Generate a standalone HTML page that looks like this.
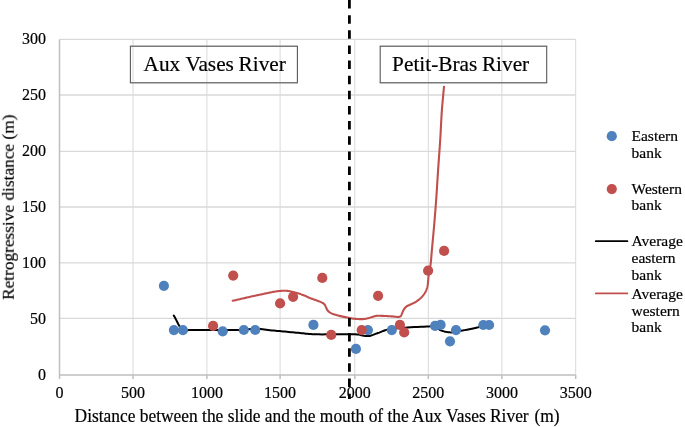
<!DOCTYPE html><html><head><meta charset="utf-8"><style>html,body{margin:0;padding:0;background:#fff;width:685px;height:427px;overflow:hidden}svg{display:block;will-change:transform}text{font-family:"Liberation Serif", serif;fill:#000;stroke:#000;stroke-width:0.2px}.t{opacity:0.999}</style></head><body>
<svg width="685" height="427" viewBox="0 0 685 427">
<defs><filter id="bl" x="0" y="0" width="100%" height="100%" filterUnits="userSpaceOnUse"><feGaussianBlur stdDeviation="0.2 0.4"/></filter></defs>
<g filter="url(#bl)">
<rect width="685" height="427" fill="#fff"/>
<path d="M59.50 39.40H575.70M59.50 95.00H575.70M59.50 151.30H575.70M59.50 207.00H575.70M59.50 262.90H575.70M59.50 318.40H575.70" stroke="#d9d9d9" stroke-width="1.3" fill="none"/>
<path d="M133.00 39.40V374.90M206.90 39.40V374.90M280.10 39.40V374.90M354.80 39.40V374.90M428.30 39.40V374.90M501.90 39.40V374.90M575.70 39.40V374.90" stroke="#d9d9d9" stroke-width="1.0" fill="none"/>
<path d="M59.50 374.90H575.70M59.50 39.40V378.90M133.00 374.90V378.90M206.90 374.90V378.90M280.10 374.90V378.90M354.80 374.90V378.90M428.30 374.90V378.90M501.90 374.90V378.90M575.70 374.90V378.90" stroke="#bfbfbf" stroke-width="1.5" fill="none"/>
<path d="M129.90 46.20H297.90M129.90 82.75H297.90" stroke="#7a7a7a" stroke-width="1.5" fill="none"/>
<path d="M130.40 46.20V82.75M297.40 46.20V82.75" stroke="#5a5a5a" stroke-width="1.1" fill="none"/>
<path d="M379.70 46.20H547.20M379.70 82.75H547.20" stroke="#7a7a7a" stroke-width="1.5" fill="none"/>
<path d="M380.20 46.20V82.75M546.70 46.20V82.75" stroke="#5a5a5a" stroke-width="1.1" fill="none"/>
<text class="t" transform="translate(143.60,71.40) scale(0.9682,1)" font-size="22.00">Aux</text>
<text class="t" transform="translate(185.40,71.40) scale(0.9682,1)" font-size="22.00">Vases</text>
<text class="t" transform="translate(238.60,71.40) scale(0.9682,1)" font-size="22.00">River</text>
<text class="t" transform="translate(392.10,71.40) scale(0.9682,1)" font-size="22.00">Petit-Bras</text>
<text class="t" transform="translate(481.90,71.40) scale(0.9682,1)" font-size="22.00">River</text>
<path d="M232.70 300.80 L234.11 300.47 L235.53 300.15 L236.94 299.82 L238.36 299.50 L239.77 299.17 L241.19 298.85 L242.59 298.52 L244.00 298.20 L245.40 297.88 L246.81 297.55 L248.23 297.23 L249.65 296.90 L251.04 296.58 L252.41 296.27 L253.73 295.98 L255.00 295.70 L255.98 295.49 L256.93 295.29 L257.85 295.11 L258.74 294.93 L259.63 294.75 L260.51 294.57 L261.40 294.39 L262.30 294.20 L263.21 294.00 L264.13 293.80 L265.04 293.59 L265.95 293.39 L266.86 293.18 L267.77 292.98 L268.69 292.79 L269.60 292.60 L270.52 292.42 L271.45 292.24 L272.39 292.06 L273.33 291.88 L274.25 291.72 L275.16 291.56 L276.05 291.42 L276.90 291.30 L277.59 291.21 L278.26 291.13 L278.92 291.06 L279.56 290.99 L280.20 290.93 L280.81 290.88 L281.41 290.84 L282.00 290.80 L282.47 290.77 L282.93 290.74 L283.37 290.72 L283.81 290.70 L284.24 290.69 L284.66 290.69 L285.08 290.69 L285.50 290.70 L285.89 290.72 L286.27 290.74 L286.64 290.77 L287.02 290.80 L287.39 290.84 L287.76 290.89 L288.13 290.94 L288.50 291.00 L288.87 291.07 L289.22 291.14 L289.57 291.22 L289.92 291.30 L290.28 291.39 L290.66 291.49 L291.06 291.59 L291.50 291.70 L292.27 291.89 L293.12 292.09 L294.03 292.32 L294.99 292.56 L295.97 292.81 L296.95 293.07 L297.90 293.33 L298.80 293.60 L299.61 293.85 L300.41 294.11 L301.20 294.38 L301.99 294.65 L302.76 294.93 L303.52 295.22 L304.27 295.51 L305.00 295.80 L305.65 296.08 L306.27 296.36 L306.87 296.65 L307.47 296.94 L308.07 297.23 L308.69 297.53 L309.33 297.82 L310.00 298.10 L310.87 298.43 L311.81 298.77 L312.78 299.10 L313.77 299.42 L314.76 299.75 L315.73 300.07 L316.65 300.39 L317.50 300.70 L318.13 300.94 L318.74 301.17 L319.34 301.40 L319.92 301.63 L320.47 301.86 L321.00 302.09 L321.51 302.34 L322.00 302.60 L322.38 302.82 L322.74 303.03 L323.09 303.24 L323.43 303.47 L323.75 303.70 L324.05 303.95 L324.33 304.21 L324.60 304.50 L324.84 304.82 L325.06 305.17 L325.25 305.55 L325.42 305.93 L325.59 306.33 L325.75 306.72 L325.92 307.12 L326.10 307.50 L326.28 307.88 L326.45 308.27 L326.62 308.66 L326.78 309.05 L326.96 309.43 L327.15 309.81 L327.36 310.16 L327.60 310.50 L327.86 310.82 L328.14 311.12 L328.43 311.40 L328.74 311.68 L329.07 311.94 L329.42 312.20 L329.80 312.45 L330.20 312.70 L330.81 313.03 L331.47 313.35 L332.19 313.65 L332.94 313.93 L333.73 314.21 L334.54 314.48 L335.37 314.74 L336.20 315.00 L337.21 315.30 L338.26 315.58 L339.35 315.86 L340.46 316.12 L341.59 316.38 L342.73 316.62 L343.87 316.86 L345.00 317.10 L346.17 317.35 L347.34 317.59 L348.53 317.84 L349.72 318.07 L350.91 318.29 L352.11 318.49 L353.31 318.66 L354.50 318.80 L355.70 318.91 L356.93 319.00 L358.17 319.07 L359.40 319.11 L360.62 319.13 L361.80 319.12 L362.93 319.08 L364.00 319.00 L364.78 318.91 L365.52 318.80 L366.23 318.66 L366.92 318.51 L367.60 318.34 L368.29 318.16 L368.98 317.98 L369.70 317.80 L370.50 317.58 L371.32 317.32 L372.14 317.05 L372.96 316.77 L373.79 316.50 L374.63 316.26 L375.46 316.05 L376.30 315.90 L377.12 315.81 L377.94 315.76 L378.75 315.75 L379.57 315.76 L380.40 315.79 L381.24 315.83 L382.11 315.87 L383.00 315.90 L384.11 315.94 L385.28 315.98 L386.48 316.04 L387.70 316.11 L388.92 316.18 L390.12 316.26 L391.29 316.33 L392.40 316.40 L393.32 316.48 L394.26 316.59 L395.20 316.71 L396.11 316.82 L396.97 316.92 L397.77 316.97 L398.49 316.97 L399.10 316.90 L399.38 316.83 L399.63 316.76 L399.86 316.67 L400.07 316.57 L400.27 316.45 L400.45 316.32 L400.63 316.17 L400.80 316.00 L400.99 315.77 L401.16 315.52 L401.31 315.23 L401.45 314.93 L401.58 314.61 L401.71 314.27 L401.85 313.94 L402.00 313.60 L402.20 313.16 L402.39 312.70 L402.58 312.22 L402.78 311.72 L402.99 311.22 L403.21 310.73 L403.44 310.25 L403.70 309.80 L403.97 309.36 L404.26 308.93 L404.55 308.51 L404.86 308.09 L405.19 307.69 L405.54 307.30 L405.91 306.94 L406.30 306.60 L406.75 306.27 L407.23 305.98 L407.75 305.72 L408.28 305.48 L408.82 305.24 L409.38 305.01 L409.94 304.76 L410.50 304.50 L411.13 304.20 L411.79 303.90 L412.46 303.60 L413.13 303.30 L413.81 302.98 L414.48 302.65 L415.15 302.29 L415.80 301.90 L416.49 301.45 L417.19 300.96 L417.89 300.44 L418.58 299.90 L419.26 299.35 L419.91 298.80 L420.52 298.24 L421.10 297.70 L421.55 297.25 L421.98 296.80 L422.39 296.35 L422.78 295.89 L423.16 295.43 L423.52 294.97 L423.86 294.49 L424.20 294.00 L424.52 293.50 L424.83 292.99 L425.13 292.47 L425.42 291.95 L425.68 291.42 L425.94 290.88 L426.18 290.34 L426.40 289.80 L426.60 289.29 L426.77 288.79 L426.93 288.29 L427.08 287.79 L427.22 287.27 L427.35 286.72 L427.47 286.13 L427.60 285.50 L427.78 284.41 L427.92 283.20 L428.05 281.89 L428.16 280.53 L428.27 279.12 L428.39 277.71 L428.53 276.33 L428.70 275.00 L428.89 273.75 L429.11 272.53 L429.35 271.32 L429.59 270.11 L429.84 268.89 L430.07 267.64 L430.30 266.35 L430.50 265.00 L430.71 263.31 L430.90 261.59 L431.07 259.83 L431.23 258.02 L431.38 256.14 L431.54 254.18 L431.71 252.14 L431.90 250.00 L432.20 246.72 L432.53 243.16 L432.88 239.38 L433.24 235.47 L433.60 231.50 L433.95 227.55 L434.29 223.69 L434.60 220.00 L434.87 216.77 L435.12 213.59 L435.37 210.46 L435.60 207.36 L435.83 204.28 L436.06 201.20 L436.28 198.11 L436.50 195.00 L436.71 191.89 L436.91 188.80 L437.11 185.73 L437.30 182.64 L437.49 179.54 L437.69 176.41 L437.89 173.23 L438.10 170.00 L438.35 166.38 L438.61 162.69 L438.88 158.95 L439.15 155.17 L439.43 151.37 L439.69 147.56 L439.95 143.77 L440.20 140.00 L440.43 136.22 L440.64 132.41 L440.83 128.58 L441.03 124.76 L441.23 120.97 L441.43 117.23 L441.66 113.57 L441.90 110.00 L442.14 106.95 L442.39 103.97 L442.65 101.04 L442.91 98.16 L443.19 95.31 L443.46 92.46 L443.73 89.59 L444.00 86.70" fill="none" stroke="#c0504d" stroke-width="2.1" stroke-linejoin="round" stroke-linecap="round"/>
<path d="M173.80 315.60 L174.93 317.53 L176.03 319.64 L177.13 321.82 L178.23 323.97 L179.35 325.97 L180.50 327.73 L181.70 329.14 L182.95 330.10 L183.76 330.44 L184.54 330.59 L185.33 330.60 L186.13 330.50 L186.98 330.36 L187.89 330.19 L188.89 330.06 L190.00 330.00 L192.57 329.99 L195.63 329.98 L199.05 329.98 L202.70 329.98 L206.45 329.99 L210.17 329.99 L213.73 330.00 L217.00 330.00 L219.59 330.00 L222.17 330.01 L224.72 330.02 L227.21 330.02 L229.61 330.03 L231.90 330.03 L234.04 330.02 L236.00 330.00 L237.15 329.99 L238.21 329.98 L239.19 329.97 L240.13 329.95 L241.05 329.93 L241.99 329.90 L242.96 329.86 L244.00 329.80 L245.30 329.69 L246.63 329.54 L248.00 329.36 L249.39 329.17 L250.80 328.99 L252.25 328.84 L253.71 328.74 L255.20 328.70 L256.95 328.75 L258.75 328.87 L260.59 329.05 L262.46 329.27 L264.35 329.52 L266.24 329.76 L268.13 330.00 L270.00 330.20 L271.87 330.38 L273.74 330.56 L275.62 330.73 L277.49 330.91 L279.37 331.08 L281.25 331.25 L283.12 331.43 L285.00 331.60 L286.88 331.78 L288.78 331.95 L290.69 332.13 L292.59 332.31 L294.48 332.48 L296.35 332.66 L298.19 332.83 L300.00 333.00 L301.58 333.16 L303.09 333.33 L304.56 333.50 L306.01 333.66 L307.50 333.82 L309.06 333.97 L310.71 334.09 L312.50 334.20 L315.47 334.31 L318.77 334.36 L322.31 334.38 L325.99 334.37 L329.70 334.35 L333.34 334.32 L336.80 334.30 L340.00 334.30 L342.35 334.30 L344.63 334.27 L346.84 334.24 L348.99 334.21 L351.09 334.20 L353.12 334.22 L355.09 334.28 L357.00 334.40 L358.49 334.58 L359.91 334.84 L361.30 335.15 L362.64 335.47 L363.96 335.76 L365.27 335.99 L366.58 336.11 L367.90 336.10 L369.19 335.94 L370.47 335.67 L371.74 335.30 L373.00 334.87 L374.25 334.40 L375.50 333.92 L376.75 333.44 L378.00 333.00 L379.22 332.57 L380.40 332.11 L381.56 331.64 L382.73 331.16 L383.92 330.70 L385.15 330.26 L386.44 329.85 L387.80 329.50 L389.64 329.13 L391.56 328.83 L393.57 328.58 L395.65 328.37 L397.79 328.20 L399.99 328.03 L402.23 327.87 L404.50 327.70 L407.45 327.49 L410.68 327.30 L414.06 327.12 L417.48 326.97 L420.81 326.82 L423.92 326.67 L426.69 326.54 L429.00 326.40 L429.97 326.30 L430.84 326.16 L431.64 326.01 L432.37 325.87 L433.07 325.76 L433.75 325.71 L434.42 325.75 L435.10 325.90 L435.79 326.21 L436.42 326.66 L437.01 327.21 L437.60 327.83 L438.20 328.47 L438.83 329.09 L439.52 329.64 L440.30 330.10 L441.46 330.58 L442.77 331.02 L444.20 331.41 L445.67 331.74 L447.15 332.01 L448.59 332.21 L449.92 332.34 L451.10 332.40 L451.80 332.38 L452.46 332.31 L453.08 332.20 L453.67 332.06 L454.25 331.91 L454.82 331.76 L455.40 331.62 L456.00 331.50 L456.58 331.41 L457.13 331.33 L457.67 331.26 L458.22 331.19 L458.79 331.11 L459.39 331.03 L460.06 330.92 L460.80 330.80 L462.52 330.50 L464.61 330.12 L466.96 329.68 L469.42 329.21 L471.89 328.71 L474.25 328.22 L476.35 327.74 L478.10 327.30 L478.90 327.06 L479.61 326.81 L480.27 326.56 L480.87 326.31 L481.46 326.08 L482.04 325.86 L482.65 325.66 L483.30 325.50 L484.00 325.37 L484.72 325.28 L485.44 325.21 L486.17 325.16 L486.90 325.13 L487.64 325.09 L488.37 325.05 L489.10 325.00" fill="none" stroke="#000" stroke-width="2.0" stroke-linejoin="round" stroke-linecap="round"/>
<circle cx="163.9" cy="285.8" r="5.1" fill="#4f81bd"/>
<circle cx="173.9" cy="330.1" r="5.1" fill="#4f81bd"/>
<circle cx="182.9" cy="330.1" r="5.1" fill="#4f81bd"/>
<circle cx="222.7" cy="331.3" r="5.1" fill="#4f81bd"/>
<circle cx="243.8" cy="330.0" r="5.1" fill="#4f81bd"/>
<circle cx="255.2" cy="330.0" r="5.1" fill="#4f81bd"/>
<circle cx="313.4" cy="324.9" r="5.1" fill="#4f81bd"/>
<circle cx="355.9" cy="348.9" r="5.1" fill="#4f81bd"/>
<circle cx="367.9" cy="330.1" r="5.1" fill="#4f81bd"/>
<circle cx="391.8" cy="330.1" r="5.1" fill="#4f81bd"/>
<circle cx="435.1" cy="325.9" r="5.1" fill="#4f81bd"/>
<circle cx="440.6" cy="324.9" r="5.1" fill="#4f81bd"/>
<circle cx="450.0" cy="341.3" r="5.1" fill="#4f81bd"/>
<circle cx="456.0" cy="330.1" r="5.1" fill="#4f81bd"/>
<circle cx="483.3" cy="325.0" r="5.1" fill="#4f81bd"/>
<circle cx="489.1" cy="325.0" r="5.1" fill="#4f81bd"/>
<circle cx="545.0" cy="330.3" r="5.1" fill="#4f81bd"/>
<circle cx="213.1" cy="325.9" r="5.1" fill="#c0504d"/>
<circle cx="233.2" cy="275.6" r="5.1" fill="#c0504d"/>
<circle cx="280.1" cy="303.4" r="5.1" fill="#c0504d"/>
<circle cx="293.1" cy="296.8" r="5.1" fill="#c0504d"/>
<circle cx="322.3" cy="277.9" r="5.1" fill="#c0504d"/>
<circle cx="331.2" cy="334.9" r="5.1" fill="#c0504d"/>
<circle cx="361.7" cy="330.1" r="5.1" fill="#c0504d"/>
<circle cx="378.1" cy="295.8" r="5.1" fill="#c0504d"/>
<circle cx="399.9" cy="324.9" r="5.1" fill="#c0504d"/>
<circle cx="404.2" cy="332.4" r="5.1" fill="#c0504d"/>
<circle cx="428.1" cy="270.7" r="5.1" fill="#c0504d"/>
<circle cx="444.1" cy="250.8" r="5.1" fill="#c0504d"/>
<line x1="349.4" y1="0" x2="349.4" y2="399" stroke="#000" stroke-width="2.8" stroke-dasharray="8.5 6.64"/>
<text class="t" x="46.0" y="43.80" font-size="16" text-anchor="end">300</text>
<text class="t" x="46.0" y="99.80" font-size="16" text-anchor="end">250</text>
<text class="t" x="46.0" y="155.80" font-size="16" text-anchor="end">200</text>
<text class="t" x="46.0" y="211.80" font-size="16" text-anchor="end">150</text>
<text class="t" x="46.0" y="267.80" font-size="16" text-anchor="end">100</text>
<text class="t" x="46.0" y="323.80" font-size="16" text-anchor="end">50</text>
<text class="t" x="46.0" y="379.80" font-size="16" text-anchor="end">0</text>
<text class="t" x="59.50" y="397.9" font-size="16" text-anchor="middle">0</text>
<text class="t" x="133.00" y="397.9" font-size="16" text-anchor="middle">500</text>
<text class="t" x="206.90" y="397.9" font-size="16" text-anchor="middle">1000</text>
<text class="t" x="280.10" y="397.9" font-size="16" text-anchor="middle">1500</text>
<text class="t" x="354.80" y="397.9" font-size="16" text-anchor="middle">2000</text>
<text class="t" x="428.30" y="397.9" font-size="16" text-anchor="middle">2500</text>
<text class="t" x="501.90" y="397.9" font-size="16" text-anchor="middle">3000</text>
<text class="t" x="575.70" y="397.9" font-size="16" text-anchor="middle">3500</text>
<text class="t" transform="translate(317.1,421.60) scale(0.9667,1)" font-size="18.00" text-anchor="middle">Distance between the slide and the mouth of the Aux Vases River <tspan dx="1.55">(m)</tspan></text>
<text class="t" transform="translate(13.80,207.3) rotate(-90) scale(0.9772,1)" x="0" y="0" font-size="17.70" text-anchor="middle">Retrogressive distance (m)</text>
<circle cx="611.8" cy="136.2" r="5.1" fill="#4f81bd"/>
<circle cx="611.8" cy="189.1" r="5.1" fill="#c0504d"/>
<line x1="595.8" y1="241.2" x2="627.4" y2="241.2" stroke="#000" stroke-width="1.8" stroke-linecap="round"/>
<line x1="595.8" y1="293.4" x2="627.4" y2="293.4" stroke="#c0504d" stroke-width="1.8" stroke-linecap="round"/>
<text class="t" x="631.5" y="141.1" font-size="15.5">Eastern</text>
<text class="t" x="631.5" y="158.2" font-size="15.5">bank</text>
<text class="t" x="631.5" y="193.5" font-size="15.5">Western</text>
<text class="t" x="631.5" y="210.3" font-size="15.5">bank</text>
<text class="t" x="631.5" y="245.7" font-size="15.5">Average</text>
<text class="t" x="631.5" y="262.9" font-size="15.5">eastern</text>
<text class="t" x="631.5" y="279.6" font-size="15.5">bank</text>
<text class="t" x="631.5" y="298.6" font-size="15.5">Average</text>
<text class="t" x="631.5" y="315.6" font-size="15.5">western</text>
<text class="t" x="631.5" y="332.2" font-size="15.5">bank</text>
</g>
</svg></body></html>
